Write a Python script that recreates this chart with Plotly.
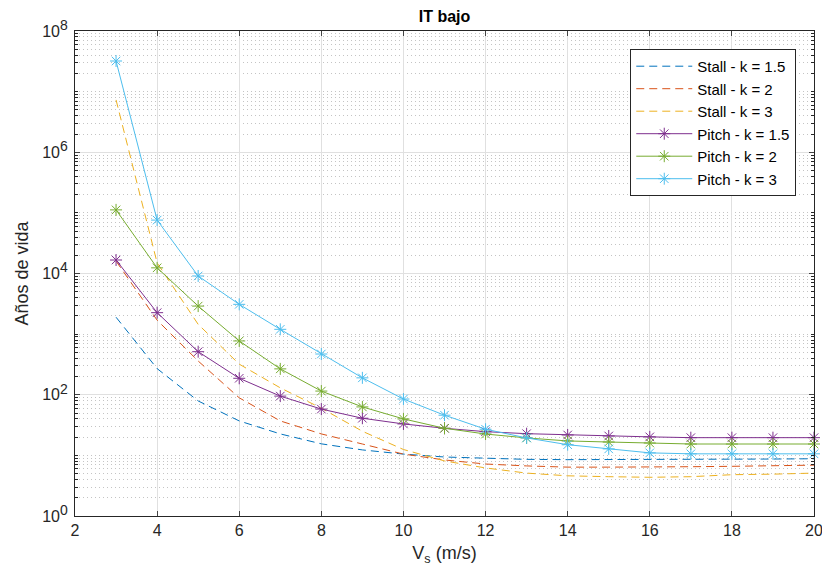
import plotly.graph_objects as go

vs = [3, 4, 5, 6, 7, 8, 9, 10, 11, 12, 13, 14, 15, 16, 17, 18, 19, 20]

stall_k15 = [1.9e3, 270, 79, 37, 22.6, 15.5, 12.3, 10.5, 9.4, 9.0, 8.6, 8.5, 8.5, 8.5, 8.5, 8.6, 8.7, 8.8]
stall_k2 = [1.6e4, 1.7e3, 360, 89, 37, 22.6, 15.4, 10.5, 8.4, 7.2, 6.7, 6.4, 6.4, 6.4, 6.5, 6.6, 6.7, 6.9]
stall_k3 = [7.3e6, 1.5e4, 1.45e3, 320, 130, 60, 25, 12.5, 8.1, 6.2, 5.1, 4.6, 4.45, 4.35, 4.45, 4.8, 4.9, 5.1]
pitch_k15 = [1.67e4, 2.26e3, 513, 187, 95, 58, 41, 33, 28, 24.6, 22.8, 21.7, 20.9, 20.2, 19.6, 19.6, 19.6, 19.6]
pitch_k2 = [1.12e5, 1.24e4, 2.9e3, 772, 267, 115, 63, 40, 28, 22.5, 19.4, 17.3, 16.6, 16.0, 15.4, 15.4, 15.4, 15.4]
pitch_k3 = [3.2e7, 7.6e4, 9.1e3, 3.1e3, 1.2e3, 470, 190, 85, 46, 27, 19.4, 15.0, 12.8, 11.0, 10.6, 10.6, 10.6, 10.6]

y_tickvals = [1, 1e2, 1e4, 1e6, 1e8]
y_exponents = ["0", "2", "4", "6", "8"]
y_ticktext = ["10<sup><span style='font-size:14px'>" + e + "</span></sup>" for e in y_exponents]
x_tickvals = [2, 4, 6, 8, 10, 12, 14, 16, 18, 20]

minor_vals = [m * 10 ** e for e in range(0, 8) for m in range(1, 10) if not (m == 1 and e % 2 == 0)]

fig = go.Figure()

stall = [("Stall - k = 1.5", stall_k15, "#0072BD"),
         ("Stall - k = 2", stall_k2, "#D95319"),
         ("Stall - k = 3", stall_k3, "#EDB120")]
pitch = [("Pitch - k = 1.5", pitch_k15, "#7E2F8E"),
         ("Pitch - k = 2", pitch_k2, "#77AC30"),
         ("Pitch - k = 3", pitch_k3, "#4DBEEE")]

for name, ys, col in stall:
    fig.add_trace(go.Scatter(x=vs, y=ys, name=name, mode="lines",
                             line=dict(color=col, width=1, dash="8px,5px")))
for name, ys, col in pitch:
    fig.add_trace(go.Scatter(x=vs, y=ys, name=name, mode="lines+markers",
                             cliponaxis=False,
                             line=dict(color=col, width=1),
                             marker=dict(symbol="asterisk-open", size=10,
                                         line=dict(color=col, width=1))))

axcol = "#262626"
fig.update_layout(
    width=822, height=575,
    margin=dict(l=75, r=8, t=31, b=59),
    paper_bgcolor="white", plot_bgcolor="white",
    font=dict(family="Liberation Sans, Arial, sans-serif", color=axcol, size=16),
    title=dict(text="<b>IT bajo</b>", x=0.5, xref="paper", xanchor="center",
               y=0.972, yanchor="middle",
               font=dict(size=16, color="#000000")),
    showlegend=True,
    legend=dict(x=0.976, xanchor="right", y=0.963, yanchor="top",
                bgcolor="white", bordercolor="#262626", borderwidth=1,
                font=dict(size=15, color="#000000"), itemwidth=56,
                tracegroupgap=0),
)

fig.update_xaxes(
    range=[2, 20], tickvals=x_tickvals, ticks="inside", ticklen=5,
    showline=True, linecolor=axcol, linewidth=1, mirror="allticks",
    showgrid=True, gridcolor="#e0e0e0", gridwidth=1, zeroline=False,
    tickfont=dict(size=16, color=axcol), automargin=False,
    ticklabeloverflow="allow",
    title=dict(text="V<sub>s</sub> (m/s)", font=dict(size=18, color=axcol), standoff=8),
)
fig.update_yaxes(
    type="log", range=[0, 8], tickvals=y_tickvals, ticktext=y_ticktext,
    ticks="inside", ticklen=5, ticklabelstandoff=3,
    showline=True, linecolor=axcol, linewidth=1, mirror="allticks",
    showgrid=True, gridcolor="#e0e0e0", gridwidth=1, zeroline=False,
    tickfont=dict(size=16, color=axcol), automargin=False,
    minor=dict(tickvals=minor_vals, ticks="inside", ticklen=3, tickcolor=axcol,
               showgrid=True, gridcolor="#c4c4c4", griddash="1px,3px", gridwidth=1),
    title=dict(text="Años de vida", font=dict(size=18, color=axcol), standoff=8),
)

# remove the default page margin so the 822x575 figure fills the window exactly
page_fix = ("document.body.style.margin='0';"
            "document.documentElement.style.overflow='hidden';")

fig.write_html("out.html", post_script=page_fix, config={"displayModeBar": False})
